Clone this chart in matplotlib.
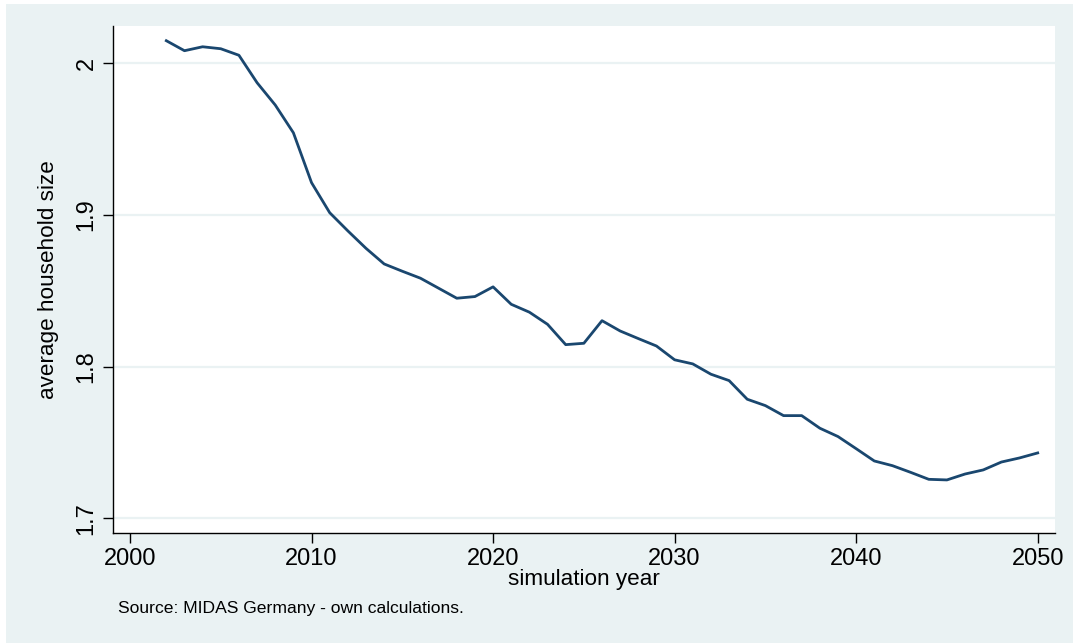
import matplotlib
matplotlib.use("Agg")
import matplotlib.pyplot as plt
from matplotlib.patches import Rectangle

years = list(range(2002, 2051))
hh_size = [2.0149, 2.0083, 2.0109, 2.0096, 2.0053, 1.9872, 1.9725, 1.9542, 1.9213, 1.9015,
           1.8895, 1.8780, 1.8677, 1.8629, 1.8583, 1.8517, 1.8451, 1.8462, 1.8526, 1.8411,
           1.8359, 1.8279, 1.8145, 1.8154, 1.8303, 1.8235, 1.8185, 1.8136, 1.8045, 1.8018,
           1.7950, 1.7908, 1.7785, 1.7743, 1.7677, 1.7677, 1.7594, 1.7539, 1.7459, 1.7378,
           1.7347, 1.7303, 1.7257, 1.7253, 1.7292, 1.7319, 1.7371, 1.7398, 1.7431]
x_ticks = [2000, 2010, 2020, 2030, 2040, 2050]
y_ticks = [1.7, 1.8, 1.9, 2.0]
y_tick_labels = ["1.7", "1.8", "1.9", "2"]

plt.rcParams['font.family'] = ['Liberation Sans', 'DejaVu Sans']

W, H = 1073, 643
fig = plt.figure(figsize=(W / 100, H / 100), dpi=100)
fig.patch.set_facecolor("white")
bg = "#EAF2F3"
fig.patches.append(Rectangle((6 / W, 0), 1 - 6 / W, 1 - 4 / H, transform=fig.transFigure,
                             facecolor=bg, edgecolor="none", zorder=-10))

left, right, top, bottom = 113, 1055, 26, 533
ax = fig.add_axes([left / W, (H - bottom) / H, (right - left) / W, (bottom - top) / H])
ax.set_zorder(1)
ax.set_facecolor("white")

x_per_px = 50 / (1037.7 - 130)
ax.set_xlim(2000 - (130 - left) * x_per_px, 2050 + (right - 1037.7) * x_per_px)
y_per_px = 0.3 / (518.3 - 63.3)
ax.set_ylim(1.7 - (bottom - 518.3) * y_per_px, 2.0 + (63.3 - top) * y_per_px)

for yv in y_ticks:
    ax.axhline(yv, color=bg, lw=1.6, zorder=1)

ax.plot(years, hh_size, color="#1A476F", lw=2.0, zorder=3, solid_joinstyle="round")

for s in ["top", "right"]:
    ax.spines[s].set_visible(False)
for s in ["left", "bottom"]:
    ax.spines[s].set_color("black")
    ax.spines[s].set_linewidth(1.0)

ax.set_xticks(x_ticks)
ax.set_xticklabels([str(v) for v in x_ticks], fontsize=17)
ax.set_yticks(y_ticks)
ax.set_yticklabels(y_tick_labels, fontsize=17, rotation=90, va="center")
ax.tick_params(axis="both", length=7, width=1.0, color="black", pad=4)
ax.tick_params(axis="y", pad=4)

ax.set_xlabel("simulation year", fontsize=16.2, labelpad=-1)
ax.set_ylabel("average household size", fontsize=16.2, labelpad=12)

fig.text(118 / W, 1 - 608 / H, "Source: MIDAS Germany - own calculations.", fontsize=12.6,
         ha="left", va="center")

fig.savefig("out.png", dpi=100, facecolor=fig.get_facecolor())
